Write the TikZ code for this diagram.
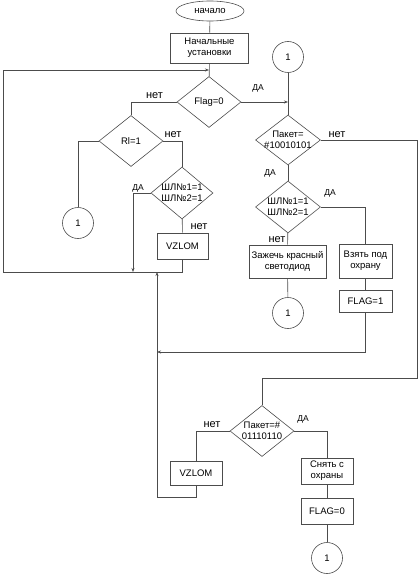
\documentclass[tikz,border=0pt]{standalone}
\usepackage{fontspec}
\setmainfont{Liberation Sans}
\usetikzlibrary{shapes.geometric, arrows.meta, positioning}

\begin{document}
\begin{tikzpicture}[x=1pt, y=-1pt, >={Stealth[length=4pt, width=3pt]},
        flow/.style={draw=black!70, line width=0.6pt},
        terminal/.style={ellipse, draw=black!70, line width=0.6pt, minimum width=68pt, minimum height=20pt, inner sep=0pt, font=\fontsize{9.5}{11}\selectfont},
        process/.style={rectangle, draw=black!70, line width=0.6pt, align=center, inner sep=0pt, font=\fontsize{9.5}{11}\selectfont},
        decision/.style={diamond, draw=black!70, line width=0.6pt, aspect=1.25, inner sep=-4pt, align=center, minimum width=64pt, minimum height=51pt, font=\fontsize{9.5}{11}\selectfont},
        joint/.style={circle, draw=black!70, line width=0.6pt, minimum size=31pt, inner sep=0pt, font=\fontsize{9.5}{11}\selectfont},
        lblno/.style={inner sep=0pt, font=\fontsize{11}{12}\selectfont},
        lblyes/.style={inner sep=0pt, font=\fontsize{8.5}{10}\selectfont}
    ]
        \useasboundingbox (0,0) rectangle (419,575);

        % Nodes
        \node [terminal] (start) at (210,11) {начало};
        \node [process, minimum width=78pt, minimum height=30pt] (init) at (209.5,48) {Начальные\\установки};
        \node [decision] (flag) at (209,102) {Flag=0};
        \node [decision] (ri) at (131,141) {Rl=1};
        \node [decision, minimum width=62pt, minimum height=52pt] (shl1) at (182,193) {ШЛ№1=1\\ШЛ№2=1};
        \node [process, minimum width=51pt, minimum height=26pt] (vz1) at (182.5,246) {VZLOM};
        \node [joint] (c1a) at (78,223) {1};
        \node [joint] (c1b) at (288,57) {1};
        \node [decision, minimum width=65pt, minimum height=50pt] (pk1) at (288,140) {Пакет=\\\#10010101};
        \node [decision, minimum width=65pt, minimum height=52pt] (shl2) at (288,207) {ШЛ№1=1\\ШЛ№2=1};
        \node [process, minimum width=77pt, minimum height=33pt] (led) at (287.5,261.5) {Зажечь красный\\светодиод};
        \node [joint] (c1c) at (288,313) {1};
        \node [process, minimum width=53pt, minimum height=34pt] (arm) at (365.5,261) {Взять под\\охрану};
        \node [process, minimum width=53pt, minimum height=22pt] (f1) at (365.5,301) {FLAG=1};
        \node [decision] (pk2) at (262,431) {Пакет=\#\\01110110};
        \node [process, minimum width=52pt, minimum height=24pt] (vz2) at (196,473) {VZLOM};
        \node [process, minimum width=52pt, minimum height=26pt] (dis) at (327,471) {Снять с\\охраны};
        \node [process, minimum width=52pt, minimum height=26pt] (f0) at (327,511) {FLAG=0};
        \node [joint] (c1d) at (327,558) {1};

        % Junctions
        \coordinate (loopin) at (209,70);
        \coordinate (cornerBL) at (3,272);
        \coordinate (mergeA) at (133,272);
        \coordinate (mergeC) at (157,272);
        \coordinate (mergeB) at (157,352);
        \coordinate (cornerBB) at (157,497);
        \coordinate (cornerR) at (417,378);

        % Labels
        \node [lblno] (no1) at (154.5,96) {нет};
        \node [lblyes] (yes1) at (258,88) {ДА};
        \node [lblno] (no2) at (173,135) {нет};
        \node [lblno] (no3) at (337,135) {нет};
        \node [lblyes] (yes2) at (138,188) {ДА};
        \node [lblno] (no4) at (199,227) {нет};
        \node [lblyes] (yes3) at (270,173) {ДА};
        \node [lblyes] (yes4) at (330,193) {ДА};
        \node [lblno] (no5) at (277,240) {нет};
        \node [lblno] (no6) at (212,425) {нет};
        \node [lblyes] (yes5) at (303,419) {ДА};

        % Connectors
        \draw[flow] (start) -- (init);
        \draw[flow] (init) -- (flag);
        \draw[flow] (flag.west) -| (ri.north);
        \draw[flow, ->] (flag.east) -- (flag.east -| pk1.north);
        \draw[flow] (c1b) -- (pk1);
        \draw[flow] (ri.west) -| (c1a.north);
        \draw[flow] (ri.east) -| (shl1.north);
        \draw[flow, ->] (shl1.west) -| (mergeA);
        \draw[flow] (shl1) -- (vz1);
        \draw[flow, ->] (vz1.south) |- (cornerBL) |- (loopin);
        \draw[flow] (pk1.east) -| (cornerR) -| (pk2.north);
        \draw[flow] (pk1) -- (shl2);
        \draw[flow] (shl2.east) -| (arm.north);
        \draw[flow] (shl2) -- (led);
        \draw[flow] (led) -- (c1c);
        \draw[flow] (arm) -- (f1);
        \draw[flow, ->] (f1.south) |- (mergeB);
        \draw[flow] (pk2.west) -| (vz2.north);
        \draw[flow] (pk2.east) -| (dis.north);
        \draw[flow] (dis) -- (f0);
        \draw[flow] (f0) -- (c1d);
        \draw[flow, ->] (vz2.south) |- (cornerBB) -- (mergeC);
    \end{tikzpicture}
\end{document}
